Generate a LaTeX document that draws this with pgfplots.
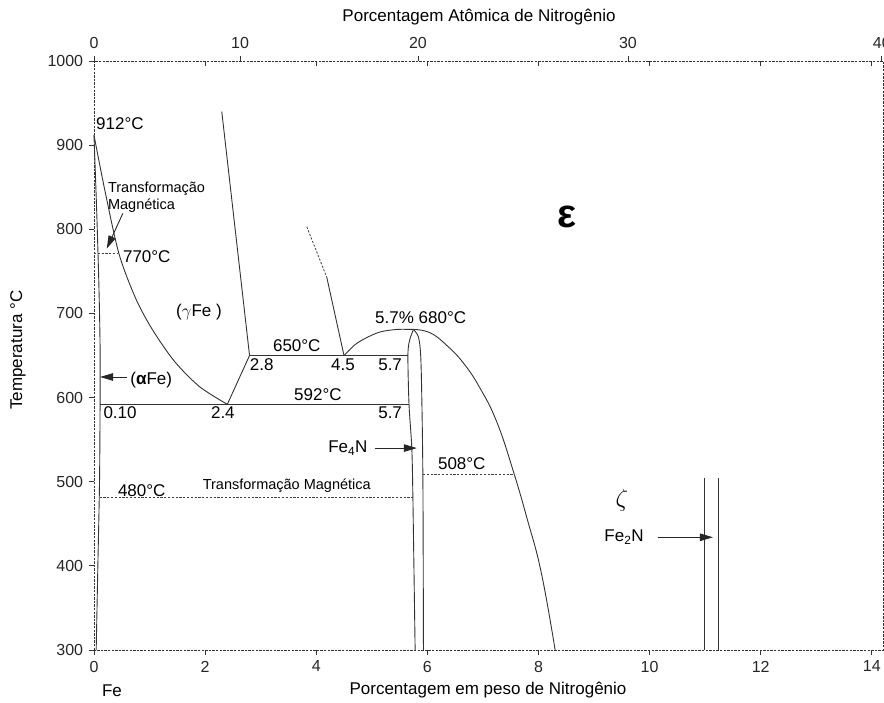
\documentclass[border=0pt]{standalone}
\usepackage{fontspec}
\setmainfont{Liberation Sans}
\usepackage{pgfplots}
\pgfplotsset{compat=1.18}
\usetikzlibrary{arrows.meta}
\newcommand{\FA}{\fontsize{17bp}{20bp}\selectfont}
\newcommand{\FB}{\fontsize{14.5bp}{17.5bp}\selectfont}
\newcommand{\FT}{\fontsize{16bp}{19bp}\selectfont}
\begin{document}
\FA
\begin{tikzpicture}
\pgfplotsset{
  common/.style={scale only axis, width=789bp, height=589bp,
    xmin=0, xmax=14.2, ymin=300, ymax=1000,
    /pgf/number format/assume math mode=true,
    /pgf/number format/1000 sep={},
    tick label style={font=\FT, text=black!85},
    major tick length=5bp,
    tick style={black!80, line width=0.8bp, solid}},
  ln/.style={line width=0.9bp, black!80, solid, mark=none},
  dsh/.style={line width=0.8bp, black!75, mark=none, dash pattern=on 2.2bp off 1.6bp},
  arr/.style={line width=0.9bp, black!85, mark=none, -{Triangle[length=13bp,width=7.5bp]}},
}
\begin{axis}[common,
  clip=false,
  cycle list={{black!80, solid, mark=none}},
  axis line style={black!80, line width=0.9bp, dash pattern=on 2.4bp off 1.2bp},
  xtick={0,2,...,14}, ytick={300,400,...,1000},
  xtick pos=bottom, ytick pos=left, tick align=outside,
  every node/.append style={text=black!85},
]
\coordinate (BL) at (rel axis cs:-0.1191,-0.0883);
\coordinate (TR) at (rel axis cs:1.0013,1.1036);
% alpha boundary
\addplot[ln, smooth] coordinates {(0,912) (0.05,820) (0.09,730) (0.11,660) (0.11,592) (0.1,500) (0.07,400) (0.04,300)};
% gamma / (alpha+gamma)
\addplot[ln, smooth] coordinates {(0,912) (0.2,845) (0.45,771) (0.75,718) (1.05,681) (1.45,643) (1.9,613) (2.4,592)};
% gamma boundary lines
\addplot[ln] coordinates {(2.4,592) (2.8,650) (2.3,940)};
\addplot[ln] coordinates {(0.11,592) (5.67,592)};
\addplot[ln] coordinates {(2.8,650) (5.65,650)};
\addplot[dsh] coordinates {(3.83,803) (4.19,743)};
\addplot[ln] coordinates {(4.19,743) (4.5,650)};
% dome
\addplot[ln, smooth] coordinates {(4.5,650) (4.7,663) (4.9,671) (5.15,678) (5.45,681) (5.75,681)};
% epsilon boundary
\addplot[ln, smooth, tension=0.75] coordinates {(5.75,681) (6.05,677) (6.35,662) (6.65,641) (6.95,611) (7.25,571) (7.54,514) (7.8,455) (8.05,392) (8.3,300)};
% Fe4N
\addplot[ln, smooth] coordinates {(5.75,681) (5.68,668) (5.65,650) (5.67,592) (5.72,540) (5.74,480) (5.78,300)};
\addplot[ln, smooth] coordinates {(5.75,681) (5.84,672) (5.88,650) (5.9,600) (5.92,500) (5.93,300)};
% Fe2N
\addplot[ln] coordinates {(10.98,300) (10.98,505)};
\addplot[ln] coordinates {(11.23,300) (11.23,505)};
% dashed isotherms
\addplot[dsh] coordinates {(0,771) (0.43,771)};
\addplot[dsh] coordinates {(0.1,481) (5.74,481)};
\addplot[dsh] coordinates {(5.92,509) (7.54,509)};
% arrows
\addplot[arr] coordinates {(5.06,540) (5.81,540)};
\addplot[arr] coordinates {(10.15,434) (11.14,434)};
\addplot[arr] coordinates {(0.59,624.5) (0.11,624.5)};
\addplot[arr] coordinates {(0.52,819) (0.23,777)};
% labels
\node[anchor=west, inner sep=0pt] at (axis cs:0.036,925) {912°C};
\node[anchor=north west, align=left, font=\FB, inner sep=0pt] at (axis cs:0.25,857) {Transformação\\Magnética};
\node[anchor=west, inner sep=0pt] at (axis cs:0.52,767) {770°C};
\node at (axis cs:1.89,702) {($\gamma$Fe )};
\node at (axis cs:3.65,662) {650°C};
\node at (axis cs:3.02,639) {2.8};
\node at (axis cs:4.48,639) {4.5};
\node at (axis cs:5.33,639) {5.7};
\node at (axis cs:5.88,695) {5.7\% 680°C};
\node at (axis cs:4.03,603) {592°C};
\node at (axis cs:0.47,582) {0.10};
\node at (axis cs:2.32,582) {2.4};
\node at (axis cs:5.33,582) {5.7};
\node at (axis cs:1.03,621) {(\textbf{α}Fe)};
\node at (axis cs:0.86,490) {480°C};
\node[font=\FB] at (axis cs:3.47,495) {Transformação Magnética};
\node at (axis cs:6.62,521) {508°C};
\node at (axis cs:4.57,540) {Fe\textsubscript{4}N};
\node at (axis cs:9.54,434) {Fe\textsubscript{2}N};
\node at (axis cs:9.5,478) {\fontsize{30bp}{30bp}\selectfont$\zeta$};
\node at (axis cs:8.51,815) {\fontsize{40bp}{40bp}\selectfont\bfseries ε};
% axis titles
\node at (rel axis cs:0.4994,-0.0679) {Porcentagem em peso de Nitrogênio};
\node at (rel axis cs:0.488,1.0747) {Porcentagem Atômica de Nitrogênio};
\node[rotate=90] at (rel axis cs:-0.0963,0.509) {Temperatura °C};
\node at (rel axis cs:0.0228,-0.0696) {Fe};
\end{axis}
% top inner wt% ticks
\begin{axis}[common, axis x line*=top, hide y axis, axis line style={draw=none},
  xtick={2,4,...,14}, xticklabels={}, tick align=inside]
\end{axis}
% top atomic % ticks
\begin{axis}[common, axis x line*=top, hide y axis, axis line style={draw=none},
  xtick={0,2.63,5.83,9.61,14.18}, xticklabels={0,10,20,30,40}, tick align=outside,
  xticklabel style={yshift=1bp}]
\end{axis}
\pgfresetboundingbox
\path (BL) rectangle (TR);
\end{tikzpicture}
\end{document}
